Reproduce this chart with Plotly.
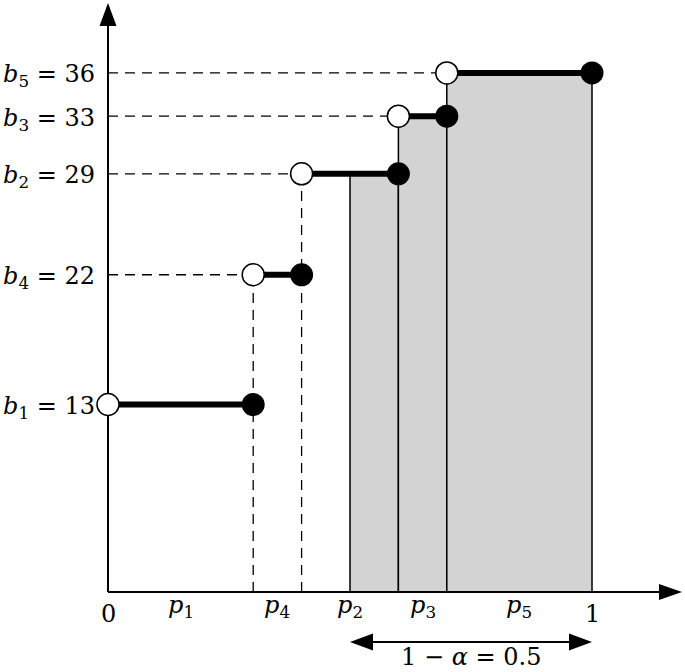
import plotly.graph_objects as go

# ---- data ----
sub_idx = [1, 4, 2, 3, 5]          # b_k labels in sorted order
values = [13, 22, 29, 33, 36]      # b_k values
probs = [0.3, 0.1, 0.2, 0.1, 0.3]  # p_k widths
alpha = 0.5
x_tick_vals = [0, 1]
x_tick_text = ["0", "1"]

# ---- layout constants (pixels) ----
W, H = 685, 672
X0_PX, X1_PX = 108, 592
Y0_PX, SY = 592, 14.42
FONT = "DejaVu Serif"
FS = 24


def xd(px):
    return (px - X0_PX) / (X1_PX - X0_PX)


def yd(py):
    return (Y0_PX - py) / SY


xr = [xd(0), xd(W)]
yr = [yd(H), yd(0)]

edges = [0.0]
for p in probs:
    edges.append(edges[-1] + p)

shapes = []
annotations = []
start = 1 - alpha

# shaded bars
for i, v in enumerate(values):
    lo, hi = edges[i], edges[i + 1]
    if hi > start + 1e-9:
        shapes.append(dict(type="rect", x0=max(lo, start), x1=hi, y0=0, y1=v,
                           fillcolor="rgb(211,211,211)", line=dict(color="black", width=1.5),
                           layer="below"))

dash = "10px,7px"
# dashed guides
for i, v in enumerate(values):
    if edges[i] > 0:
        shapes.append(dict(type="line", x0=0, x1=edges[i], y0=v, y1=v,
                           line=dict(color="black", width=1.3, dash=dash), layer="below"))
    if 0 < edges[i] < start - 1e-9:
        shapes.append(dict(type="line", x0=edges[i], x1=edges[i], y0=0, y1=v,
                           line=dict(color="black", width=1.3, dash=dash), layer="below"))

# axes
shapes.append(dict(type="line", x0=0, x1=0, y0=0, y1=yd(22),
                   line=dict(color="black", width=2), layer="below"))
shapes.append(dict(type="line", x0=0, x1=xd(662), y0=0, y1=0,
                   line=dict(color="black", width=2), layer="below"))
shapes.append(dict(type="path", xsizemode="pixel", ysizemode="pixel", xanchor=0, yanchor=yd(3),
                   path="M0,0 L-8.5,-23 L8.5,-23 Z", fillcolor="black", line=dict(width=0)))
shapes.append(dict(type="path", xsizemode="pixel", ysizemode="pixel", xanchor=xd(682), yanchor=0,
                   path="M0,0 L-23,8 L-23,-8 Z", fillcolor="black", line=dict(width=0)))

# 1 - alpha double arrow
ya = yd(642)
shapes.append(dict(type="line", x0=start + 0.02, x1=1 - 0.02, y0=ya, y1=ya,
                   line=dict(color="black", width=2)))
shapes.append(dict(type="path", xsizemode="pixel", ysizemode="pixel", xanchor=start, yanchor=ya,
                   path="M0,0 L23,8.5 L23,-8.5 Z", fillcolor="black", line=dict(width=0)))
shapes.append(dict(type="path", xsizemode="pixel", ysizemode="pixel", xanchor=1.0, yanchor=ya,
                   path="M0,0 L-23,8.5 L-23,-8.5 Z", fillcolor="black", line=dict(width=0)))

fig = go.Figure()

# step segments
sx, sy = [], []
for i, v in enumerate(values):
    sx += [edges[i], edges[i + 1], None]
    sy += [v, v, None]
fig.add_trace(go.Scatter(x=sx, y=sy, mode="lines", line=dict(color="black", width=6),
                         hoverinfo="skip", cliponaxis=False))
fig.add_trace(go.Scatter(x=edges[:-1], y=values, mode="markers",
                         marker=dict(size=22, color="white", line=dict(color="black", width=1.5)),
                         cliponaxis=False))
fig.add_trace(go.Scatter(x=edges[1:], y=values, mode="markers",
                         marker=dict(size=23, color="black", line=dict(color="black", width=0)),
                         cliponaxis=False))

# y labels
for k, v in zip(sub_idx, values):
    annotations.append(dict(x=xd(97), y=v, xref="x", yref="y",
                            text=f"<i>b</i><sub>{k}</sub> = {v}", showarrow=False,
                            xanchor="right", yanchor="middle", yshift=-3,
                            font=dict(family=FONT, size=FS, color="black")))
# x tick labels
for tv, tt in zip(x_tick_vals, x_tick_text):
    annotations.append(dict(x=tv, y=yd(614), text=tt, showarrow=False,
                            xanchor="center", yanchor="middle",
                            font=dict(family=FONT, size=FS, color="black")))
# p labels
for k, lo, hi in zip(sub_idx, edges[:-1], edges[1:]):
    annotations.append(dict(x=(lo + hi) / 2, y=yd(606), text=f"<i>p</i><sub>{k}</sub>",
                            showarrow=False, xanchor="center", yanchor="middle",
                            font=dict(family=FONT, size=FS, color="black")))
annotations.append(dict(x=(start + 1) / 2, y=yd(657), text=f"1 − <i>α</i> = {alpha}",
                        showarrow=False, xanchor="center", yanchor="middle",
                        font=dict(family=FONT, size=FS, color="black")))

fig.update_layout(
    width=W, height=H, margin=dict(l=0, r=0, t=0, b=0),
    paper_bgcolor="white", plot_bgcolor="white", showlegend=False,
    xaxis=dict(range=xr, visible=False, fixedrange=True),
    yaxis=dict(range=yr, visible=False, fixedrange=True),
    shapes=shapes, annotations=annotations,
)
fig.write_html("out.html")
